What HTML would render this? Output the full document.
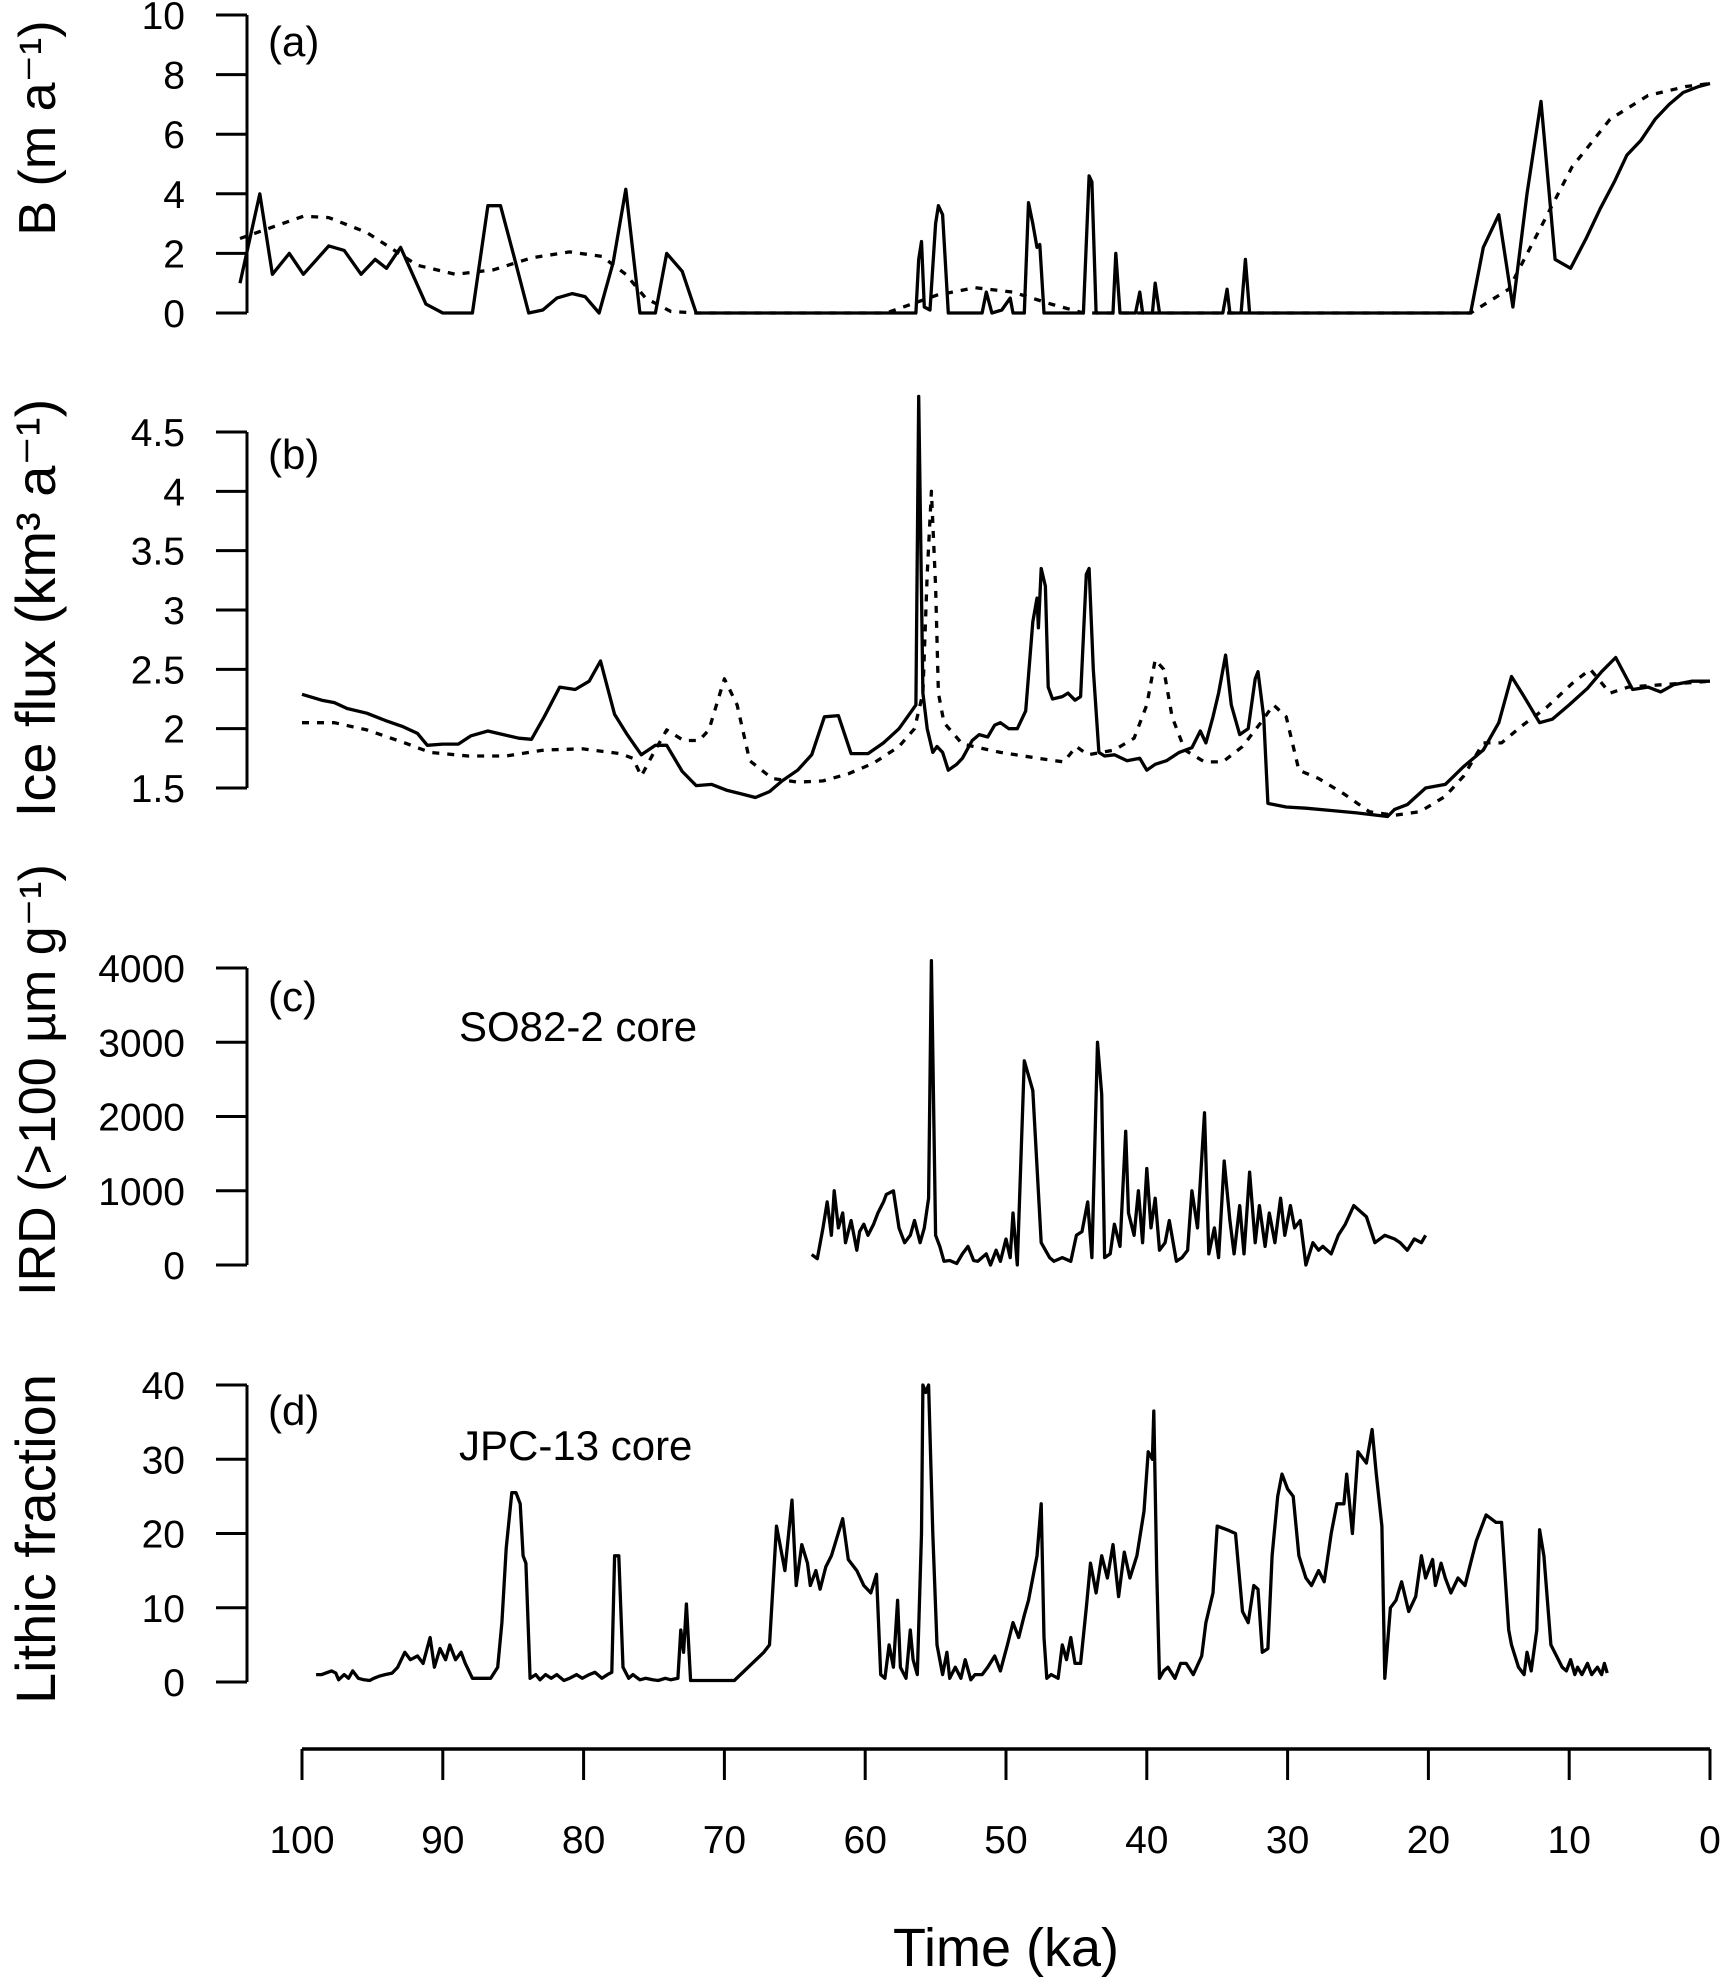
<!DOCTYPE html>
<html><head><meta charset="utf-8"><style>
html,body{margin:0;padding:0;background:#fff}
svg{display:block}
text{font-family:"Liberation Sans",Arial,sans-serif;fill:#000}
</style></head><body>
<svg id="fig" width="1721" height="1988" viewBox="0 0 1721 1988" xmlns="http://www.w3.org/2000/svg"></svg>
<script>
// ---- data (time in ka, values) ----
const aSolidT=[104.4,103.0,102.1,100.9,99.9,98.1,97.0,95.8,94.8,94.0,93.0,91.2,90.0,87.9,86.8,85.9,85.0,83.9,82.9,81.9,80.8,79.9,78.9,77.9,77.0,76.0,74.9,74.1,73.0,72.0,56.4,56.2,56.0,55.8,55.4,55.0,54.8,54.5,54.1,51.7,51.4,51.0,50.3,49.7,49.5,48.7,48.4,48.1,47.8,47.6,47.3,44.5,44.1,43.9,43.6,42.4,42.2,41.9,40.8,40.5,40.3,39.6,39.4,39.1,34.6,34.3,34.1,33.3,33.0,32.7,17.0,16.1,15.0,14.0,13.0,12.0,11.0,9.9,8.8,7.8,6.8,5.9,4.9,3.9,2.9,1.9,0.8,0];
const aSolidV=[1.0,4.0,1.3,2.0,1.3,2.25,2.1,1.3,1.8,1.5,2.2,0.3,0,0,3.6,3.6,2.0,0,0.1,0.5,0.65,0.55,0,1.7,4.15,0,0,2.0,1.4,0,0,1.8,2.4,0.2,0.1,3.0,3.6,3.3,0,0,0.7,0,0.1,0.5,0,0,3.7,3.0,2.2,2.3,0,0,4.6,4.4,0,0,2.0,0,0,0.7,0,0,1.0,0,0,0.8,0,0,1.8,0,0,2.2,3.3,0.2,4.0,7.1,1.8,1.5,2.5,3.5,4.4,5.3,5.8,6.5,7.0,7.4,7.6,7.7];
const aDashT=[104.4,99.9,98.1,95.4,91.8,89.1,86.4,83.7,81.0,78.7,77.0,75.6,73.8,72.0,58.5,54.9,52.2,49.5,46.8,44.5,17.0,14.3,12.1,9.8,7.1,4.4,1.7,0];
const aDashV=[2.5,3.25,3.2,2.7,1.6,1.3,1.45,1.85,2.05,1.9,1.3,0.5,0.05,0,0,0.6,0.85,0.7,0.3,0,0,0.8,2.8,4.9,6.5,7.3,7.6,7.7];

const bSolidT=[100,98.6,97.7,96.8,95.4,94.1,92.9,91.8,91.1,90.0,88.9,88.0,86.8,85.7,84.6,83.7,82.8,81.7,80.6,79.6,78.8,77.8,76.9,75.9,74.9,74.1,73.0,72.0,70.9,69.8,68.8,67.8,66.8,65.9,64.8,63.8,62.9,61.9,61.0,59.8,58.7,57.6,56.7,56.4,56.2,55.9,55.6,55.2,54.9,54.5,54.1,53.5,53.1,52.4,51.9,51.3,50.8,50.4,49.8,49.2,48.6,48.1,47.8,47.7,47.5,47.2,47.0,46.7,46.0,45.6,45.1,44.7,44.3,44.1,43.8,43.4,43.0,42.3,41.4,40.5,40.0,39.4,38.6,37.7,36.8,36.2,35.8,35.3,34.9,34.4,34.0,33.4,32.8,32.3,32.1,31.7,31.4,30.1,28.7,26.9,25.1,22.9,22.4,21.5,20.2,18.8,17.5,16.1,15.0,14.1,13.2,12.1,11.2,10.0,8.7,7.7,6.7,5.5,4.4,3.5,2.6,1.3,0];
const bSolidV=[2.29,2.24,2.22,2.17,2.13,2.07,2.02,1.96,1.86,1.87,1.87,1.94,1.98,1.95,1.92,1.91,2.1,2.35,2.33,2.4,2.57,2.12,1.95,1.78,1.86,1.86,1.64,1.52,1.53,1.48,1.45,1.42,1.47,1.56,1.65,1.78,2.1,2.11,1.79,1.79,1.88,2.0,2.15,2.2,4.8,2.3,2.0,1.8,1.85,1.8,1.65,1.7,1.75,1.9,1.95,1.93,2.03,2.05,2.0,2.0,2.15,2.9,3.1,2.85,3.35,3.2,2.35,2.25,2.27,2.3,2.24,2.27,3.3,3.35,2.5,1.8,1.77,1.78,1.73,1.75,1.65,1.7,1.73,1.8,1.84,1.98,1.88,2.1,2.3,2.62,2.2,1.95,2.0,2.42,2.48,2.1,1.37,1.34,1.33,1.31,1.29,1.26,1.32,1.36,1.5,1.53,1.68,1.82,2.05,2.44,2.27,2.05,2.08,2.2,2.34,2.48,2.6,2.33,2.35,2.31,2.37,2.4,2.4];
const bDashT=[100,97.7,95.4,92.7,90.9,88.2,85.5,82.8,80.1,77.4,76.5,75.9,75.1,74.1,72.9,71.8,71.1,70.0,69.1,68.2,66.6,64.8,63.0,61.2,59.4,57.6,56.5,55.9,55.6,55.3,55.0,54.8,54.4,53.1,50.4,47.7,45.9,45.0,44.2,42.3,40.9,40.0,39.4,38.8,38.2,37.3,35.9,34.6,33.2,31.9,31.0,30.1,29.2,27.8,26.0,24.2,22.4,20.6,18.8,17.5,16.1,14.8,13.4,11.6,9.8,8.5,7.1,5.8,3.5,0];
const bDashV=[2.05,2.05,1.99,1.88,1.8,1.77,1.77,1.82,1.83,1.79,1.75,1.6,1.78,1.99,1.9,1.9,1.99,2.42,2.2,1.73,1.58,1.55,1.56,1.62,1.71,1.85,2.0,2.3,3.3,4.0,3.2,2.3,2.05,1.87,1.8,1.75,1.72,1.85,1.78,1.82,1.92,2.2,2.58,2.5,2.1,1.82,1.72,1.72,1.85,2.05,2.2,2.1,1.65,1.58,1.45,1.3,1.27,1.3,1.43,1.6,1.88,1.88,2.02,2.18,2.38,2.5,2.3,2.35,2.37,2.4];

const cT=[63.8,63.4,63.0,62.7,62.4,62.2,61.9,61.6,61.4,61.0,60.6,60.4,60.1,59.8,59.4,59.1,58.7,58.5,58.0,57.6,57.2,56.8,56.5,56.1,55.8,55.5,55.3,55.0,54.7,54.4,54.0,53.5,53.1,52.7,52.3,52.0,51.4,51.1,50.7,50.4,50.0,49.7,49.5,49.2,48.7,48.1,47.5,46.9,46.6,46.0,45.4,45.0,44.6,44.2,43.9,43.5,43.2,43.0,42.6,42.3,41.9,41.5,41.3,40.9,40.6,40.3,40.0,39.7,39.4,39.1,38.7,38.4,37.9,37.5,37.1,36.8,36.4,35.9,35.6,35.2,34.9,34.5,34.1,33.8,33.4,33.1,32.7,32.3,32.0,31.6,31.3,30.9,30.5,30.2,29.8,29.5,29.1,28.7,28.2,27.8,27.5,26.9,26.4,25.9,25.3,24.4,23.8,23.1,22.4,22.0,21.5,21.0,20.5,20.2];
const cV=[140,85,500,850,400,1000,500,700,300,600,200,450,550,400,550,700,850,950,1000,500,300,400,600,300,500,900,4100,400,250,50,60,20,150,250,60,50,150,0,200,50,350,100,700,0,2750,2350,300,100,50,100,50,400,450,850,100,3000,2300,100,150,550,250,1800,700,400,1000,300,1300,500,900,200,300,600,50,100,200,1000,500,2050,150,500,100,1400,600,150,800,150,1250,300,800,250,700,300,900,400,800,500,600,0,300,200,250,150,400,550,800,650,300,400,350,300,200,350,300,400];

const dT=[99.0,98.6,97.9,97.6,97.4,97.0,96.7,96.4,96.0,95.6,95.2,94.9,94.5,94.1,93.6,93.2,92.7,92.3,91.8,91.4,90.9,90.6,90.2,89.8,89.5,89.1,88.7,88.4,87.9,87.1,86.6,86.1,85.8,85.5,85.1,84.8,84.5,84.3,84.1,83.8,83.4,83.1,82.7,82.3,81.9,81.4,81.0,80.5,80.1,79.6,79.2,78.7,78.3,78.0,77.8,77.5,77.2,76.8,76.5,76.0,75.6,75.1,74.7,74.2,73.8,73.3,73.1,72.9,72.7,72.4,69.3,67.2,66.8,66.3,65.7,65.2,64.9,64.5,64.1,63.9,63.5,63.2,62.8,62.4,61.6,61.2,60.6,60.1,59.6,59.2,58.9,58.6,58.3,58.0,57.7,57.5,57.1,56.8,56.6,56.3,56.0,55.9,55.7,55.5,55.2,54.9,54.5,54.2,54.0,53.6,53.2,52.9,52.5,52.2,51.7,51.3,50.8,50.4,49.9,49.5,49.1,48.7,48.4,47.8,47.5,47.3,47.1,46.8,46.3,46.0,45.7,45.4,45.1,44.7,44.3,44.0,43.6,43.2,42.8,42.4,42.0,41.6,41.2,40.7,40.2,39.9,39.6,39.5,39.3,39.1,38.8,38.5,38.0,37.6,37.2,36.7,36.1,35.8,35.3,35.0,34.3,33.7,33.2,32.8,32.4,32.1,31.8,31.4,31.1,30.7,30.4,30.0,29.6,29.2,28.7,28.3,27.8,27.4,26.9,26.5,26.0,25.8,25.4,25.0,24.4,24.0,23.7,23.3,23.1,22.7,22.3,21.9,21.4,20.9,20.5,20.2,19.7,19.5,19.1,18.8,18.4,17.9,17.4,17.0,16.6,15.9,15.2,14.8,14.3,14.1,13.6,13.2,13.0,12.7,12.3,12.1,11.8,11.3,10.5,10.2,9.9,9.6,9.4,9.1,8.7,8.4,8.0,7.7,7.5,7.3];
const dV=[1.0,1,1.5,1.2,0.3,1,0.5,1.5,0.5,0.3,0.2,0.5,0.8,1,1.2,2,4,3,3.5,2.5,6,2,4.5,3,5,3,4,2.5,0.5,0.5,0.5,2,8,18,25.5,25.5,24,17,16,0.5,1,0.3,1,0.5,1,0.2,0.5,1,0.5,1,1.3,0.5,1,1.3,17,17,2,0.5,1,0.3,0.5,0.3,0.2,0.5,0.3,0.5,7,4,10.5,0.2,0.2,4,5,21,15,24.5,13,18.5,16,13,15,12.5,15.5,17,22,16.5,15,13,12,14.5,1,0.5,5,2,11,2,0.5,7,3,1,20,40,39,40,20,5,1,4,0.5,2,0.5,3,0.3,1,1,2,3.5,1.5,5,8,6,9,11,17,24,6,0.5,1,0.5,5,3,6,2.5,2.5,10,16,12,17,14,18.5,11.5,17.5,14,17,23,31,30,36.5,15,0.5,1.5,2,0.5,2.5,2.5,1,3.5,8,12,21,20.5,20,9.5,8,13,12.5,4,4.5,17,25,28,26,25,17,14,13,15,13.5,20,24,24,28,20,31,29.5,34,28,21,0.5,10,11,13.5,9.5,11.5,17,14,16.5,13,16,14,12,14,13,16,19,22.5,21.5,21.5,7,5,2,1,4,1.5,7,20.5,17,5,2,1.5,3,1,2,1,2.5,1,2,1,2.5,1.2];

const xTicks=[100,90,80,70,60,50,40,30,20,10,0];
const aTicks=[0,2,4,6,8,10];
const bTicks=[1.5,2,2.5,3,3.5,4,4.5];
const bTickLabels=["1.5","2","2.5","3","3.5","4","4.5"];
const cTicks=[0,1000,2000,3000,4000];
const dTicks=[0,10,20,30,40];

// ---- drawing ----
const NS="http://www.w3.org/2000/svg";
const svg=document.getElementById('fig');
const X0=1710, PXKA=14.08;
function xs(t){return X0-PXKA*t;}
function lin(v0,p0,v1,p1){return v=>p0+(v-v0)*(p1-p0)/(v1-v0);}
const ya=lin(0,313,10,15), yb=lin(1.5,788,4.5,432), yc=lin(0,1265,4000,968), yd=lin(0,1682,40,1385);
function el(tag,attrs,parent){const e=document.createElementNS(NS,tag);for(const k in attrs)e.setAttribute(k,attrs[k]);(parent||svg).appendChild(e);return e;}
function txt(s,attrs,parent){const e=el('text',attrs,parent);e.textContent=s;return e;}

function yAxis(name,ticks,labels,ys){
  const g=el('g',{});
  
  
  const y0=ys(ticks[0]),y1=ys(ticks[ticks.length-1]);
  el('line',{x1:247,y1:y0,x2:247,y2:y1,stroke:'#000','stroke-width':3},g);
  ticks.forEach((v,i)=>{
    const y=ys(v);
    el('line',{x1:216,y1:y,x2:247,y2:y,stroke:'#000','stroke-width':3},g);
    const t=txt(labels[i],{x:185,y:y+14,'text-anchor':'end','font-size':39},g);
    
    
  });
}
function series(name,T,V,ys,dash){
  let d='';
  T.forEach((t,i)=>{d+=(i?'L':'M')+xs(t).toFixed(1)+' '+ys(V[i]).toFixed(1);});
  const p=el('path',{d:d,fill:'none',stroke:'#000','stroke-width':3.3,'stroke-linejoin':'round'});
  if(dash)p.setAttribute('stroke-dasharray','7 8');
  
  
}

yAxis('y-axis-a',aTicks,aTicks.map(String),ya);
yAxis('y-axis-b',bTicks,bTickLabels,yb);
yAxis('y-axis-c',cTicks,cTicks.map(String),yc);
yAxis('y-axis-d',dTicks,dTicks.map(String),yd);

series('b-solid-line',aSolidT,aSolidV,ya,false);
series('b-dashed-line',aDashT,aDashV,ya,true);
series('ice-flux-solid-line',bSolidT,bSolidV,yb,false);
series('ice-flux-dashed-line',bDashT,bDashV,yb,true);
series('ird-so82-line',cT,cV,yc,false);
series('lithic-jpc13-line',dT,dV,yd,false);

// x axis
const gx=el('g',{});


el('line',{x1:xs(100),y1:1749,x2:xs(0),y2:1749,stroke:'#000','stroke-width':3.5},gx);
xTicks.forEach(t=>{
  el('line',{x1:xs(t),y1:1749,x2:xs(t),y2:1780,stroke:'#000','stroke-width':3},gx);
  const l=txt(String(t),{x:xs(t),y:1853,'text-anchor':'middle','font-size':39},gx);
  
  
});
</script>
<script>
(function(){
const svg=document.getElementById('fig');
const NS="http://www.w3.org/2000/svg";
function lab(s,name,attrs){const e=document.createElementNS(NS,'text');for(const k in attrs)e.setAttribute(k,attrs[k]);e.textContent=s;


svg.appendChild(e);return e;}
lab('Time (ka)','x-axis-title',{x:1006,y:1966,'text-anchor':'middle','font-size':54});
lab('(a)','panel-label-a',{x:268,y:56,'font-size':42});
lab('(b)','panel-label-b',{x:268,y:469,'font-size':42});
lab('(c)','panel-label-c',{x:268,y:1011,'font-size':42});
lab('(d)','panel-label-d',{x:268,y:1425,'font-size':42});
lab('SO82-2 core','core-label-so82',{x:459,y:1041,'font-size':42});
lab('JPC-13 core','core-label-jpc13',{x:459,y:1460,'font-size':42});
const yl=[['B (m a\u207B\u00B9)','y-axis-title-a',128,52],['Ice flux (km\u00B3 a\u207B\u00B9)','y-axis-title-b',608,56],['IRD (>100 \u00B5m g\u207B\u00B9)','y-axis-title-c',1080,52],['Lithic fraction','y-axis-title-d',1539,56]];
yl.forEach(([s,n,y,f])=>{lab(s,n,{x:0,y:0,'text-anchor':'middle','font-size':f,transform:'translate(55,'+y+') rotate(-90)'});});
})();
</script>
</body></html>
